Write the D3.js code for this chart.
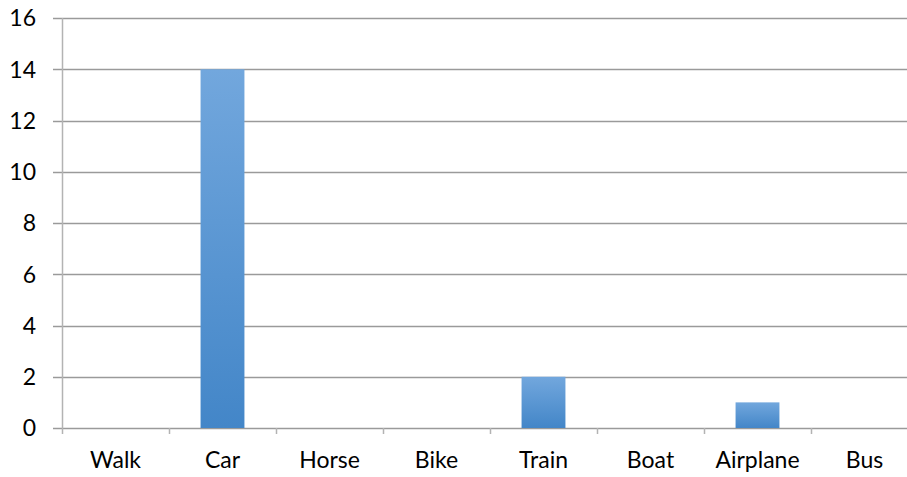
<!DOCTYPE html>
<html>
<head>
<meta charset="utf-8">
<script src="https://cdn.jsdelivr.net/npm/d3@7"></script>
<style>
  html, body { margin: 0; padding: 0; background: #fff; overflow: hidden; }
  text { font-family: Lato, "Open Sans", sans-serif; fill: #000; }
</style>
</head>
<body>
<svg id="chart" width="907" height="477"></svg>
<script>
const categories = ["Walk", "Car", "Horse", "Bike", "Train", "Boat", "Airplane", "Bus"];
const values = [0, 14, 0, 0, 2, 0, 1, 0];
const yTicks = [0, 2, 4, 6, 8, 10, 12, 14, 16];

const svg = d3.select("#chart");
const plotLeft = 62, plotRight = 918, plotTop = 18, plotBottom = 428;

const x = d3.scaleBand().domain(categories).range([plotLeft, plotRight]).padding(0);
const y = d3.scaleLinear().domain([0, 16]).range([plotBottom, plotTop]);

const defs = svg.append("defs");
const grad = defs.append("linearGradient").attr("id", "barGrad")
  .attr("x1", 0).attr("y1", 0).attr("x2", 0).attr("y2", 1);
grad.append("stop").attr("offset", "0%").attr("stop-color", "#72a7dd");
grad.append("stop").attr("offset", "100%").attr("stop-color", "#4386c8");

// gridlines
svg.append("g").selectAll("line").data(yTicks).join("line")
  .attr("x1", 53).attr("x2", 907)
  .attr("y1", d => Math.round(y(d)) + 0.5).attr("y2", d => Math.round(y(d)) + 0.5)
  .attr("stroke", "#9a9a9a").attr("stroke-width", 1.3);

// y-axis line
svg.append("line").attr("x1", plotLeft + 0.5).attr("x2", plotLeft + 0.5)
  .attr("y1", plotTop).attr("y2", plotBottom + 6)
  .attr("stroke", "#b3b3b3").attr("stroke-width", 1.5);

// category tick marks (boundaries)
const bounds = categories.slice(1).map(c => x(c));
svg.append("g").selectAll("line").data(bounds).join("line")
  .attr("x1", d => Math.round(d) + 0.5).attr("x2", d => Math.round(d) + 0.5)
  .attr("y1", plotBottom).attr("y2", plotBottom + 6)
  .attr("stroke", "#b3b3b3").attr("stroke-width", 1.5);

// bars
const barW = x.bandwidth() * 0.41;
svg.append("g").selectAll("rect").data(categories.map((c, i) => ({c, v: values[i]})).filter(d => d.v > 0))
  .join("rect")
  .attr("x", d => x(d.c) + (x.bandwidth() - barW) / 2)
  .attr("width", barW)
  .attr("y", d => y(d.v))
  .attr("height", d => y(0) - y(d.v))
  .attr("fill", "url(#barGrad)");

// y labels
svg.append("g").selectAll("text").data(yTicks).join("text")
  .attr("x", 36).attr("y", d => y(d))
  .attr("dy", "0.36em")
  .attr("text-anchor", "end")
  .attr("font-size", 23)
  .text(d => d);

// x labels
svg.append("g").selectAll("text").data(categories).join("text")
  .attr("x", d => x(d) + x.bandwidth() / 2)
  .attr("y", 468)
  .attr("text-anchor", "middle")
  .attr("font-size", 23)
  .text(d => d);
</script>
</body>
</html>
